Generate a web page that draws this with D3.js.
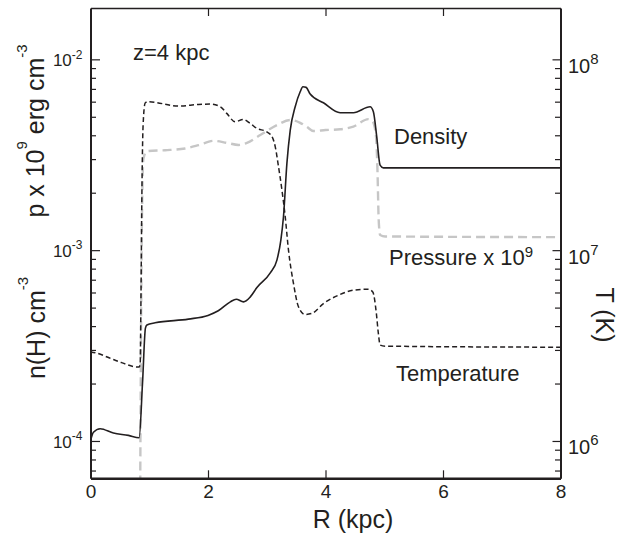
<!DOCTYPE html>
<html>
<head>
<meta charset="utf-8">
<script src="https://cdn.jsdelivr.net/npm/d3@7"></script>
<style>
  html, body { margin: 0; padding: 0; background: #fff; }
  svg { display: block; }
  text { font-family: "Liberation Sans", Arial, Helvetica, sans-serif; fill: #231f20; }
</style>
</head>
<body>
<script>
// ---------- data (R in kpc) ----------
const xTicks = [0, 2, 4, 6, 8];
const leftMajorTicks = [1e-4, 1e-3, 1e-2];   // n(H) / p x 1e9 axis
const leftExponents = ["-4", "-3", "-2"];
const rightMajorTicks = [1e6, 1e7, 1e8];     // T axis
const rightExponents = ["6", "7", "8"];

// density n(H) [cm^-3]
const densityData = [
  [0.00, 1.00e-4], [0.05, 1.11e-4], [0.165, 1.16e-4], [0.39, 1.10e-4], [0.646, 1.07e-4],
  [0.828, 1.04e-4], [0.885, 2.0e-4], [0.935, 3.9e-4], [0.96, 4.05e-4], [1.10, 4.16e-4],
  [1.666, 4.35e-4], [2.00, 4.55e-4], [2.175, 4.81e-4], [2.38, 5.36e-4], [2.48, 5.53e-4],
  [2.605, 5.36e-4], [2.72, 5.69e-4], [2.833, 6.37e-4], [3.06, 7.6e-4], [3.173, 8.87e-4],
  [3.24, 1.13e-3], [3.285, 1.50e-3], [3.343, 2.85e-3], [3.40, 4.26e-3], [3.484, 5.64e-3],
  [3.569, 6.76e-3], [3.615, 7.18e-3], [3.671, 7.13e-3], [3.739, 6.58e-3], [3.965, 5.92e-3],
  [4.249, 5.25e-3], [4.475, 5.25e-3], [4.759, 5.64e-3], [4.815, 5.31e-3], [4.872, 3.93e-3],
  [4.929, 2.79e-3], [4.985, 2.70e-3], [8.00, 2.70e-3]
];

// temperature T [K]
const temperatureData = [
  [0.00, 2.93e6], [0.08, 2.90e6], [0.42, 2.65e6], [0.82, 2.44e6], [0.845, 2.5e6],
  [0.86, 6e6], [0.875, 2e7], [0.895, 4.5e7], [0.93, 5.9e7], [0.98, 6.0e7],
  [1.50, 5.69e7], [1.84, 5.80e7], [2.04, 5.83e7], [2.21, 5.64e7], [2.32, 5.21e7],
  [2.46, 4.71e7], [2.60, 4.84e7], [2.72, 4.61e7], [2.83, 4.35e7], [3.00, 4.17e7],
  [3.09, 3.93e7], [3.145, 3.48e7], [3.20, 2.74e7], [3.258, 2.07e7], [3.314, 1.50e7],
  [3.370, 1.0e7], [3.455, 6.69e6], [3.54, 5.05e6], [3.654, 4.60e6], [3.767, 4.66e6],
  [3.965, 5.25e6], [4.249, 5.86e6], [4.475, 6.17e6], [4.73, 6.24e6], [4.805, 6.04e6],
  [4.86, 4.84e6], [4.90, 3.66e6], [4.93, 3.18e6], [5.015, 3.14e6], [8.00, 3.10e6]
];

// pressure p x 1e9 [erg cm^-3]
const pressureData = [
  [0.845, 5e-5], [0.87, 1.0e-3], [0.90, 3.0e-3], [0.957, 3.30e-3], [1.27, 3.34e-3],
  [1.61, 3.41e-3], [1.84, 3.55e-3], [2.095, 3.74e-3], [2.32, 3.65e-3], [2.52, 3.56e-3],
  [2.663, 3.65e-3], [2.89, 4.01e-3], [3.173, 4.52e-3], [3.40, 4.81e-3], [3.569, 4.65e-3],
  [3.68, 4.43e-3], [3.795, 4.21e-3], [4.00, 4.26e-3], [4.249, 4.30e-3], [4.475, 4.44e-3],
  [4.73, 4.86e-3], [4.805, 4.71e-3], [4.86, 3.93e-3], [4.885, 2.6e-3], [4.905, 1.45e-3],
  [4.93, 1.20e-3], [5.015, 1.18e-3], [8.00, 1.17e-3]
];

// ---------- layout ----------
const W = 637, H = 537;
const L = 90.5, R = 560.5, T = 8, B = 478.3;

const svg = d3.select("body").append("svg").attr("width", W).attr("height", H);

const x = d3.scaleLinear().domain([0, 8]).range([L, R]);
const y = d3.scaleLog().domain([6.374e-5, 1.858e-2]).range([B, T]);
const yT = d3.scaleLog().domain([6.374e5, 1.858e8]).range([B, T]);

function minorTicks(scale) {
  const [lo, hi] = scale.domain();
  const out = [];
  for (let e = Math.floor(Math.log10(lo)); e <= Math.ceil(Math.log10(hi)); e++) {
    for (let m = 2; m <= 9; m++) {
      const v = m * Math.pow(10, e);
      if (v >= lo && v <= hi) out.push(v);
    }
  }
  return out;
}

svg.append("defs").append("clipPath").attr("id", "clip")
  .append("rect").attr("x", L).attr("y", T).attr("width", R - L).attr("height", B - T);

// ---------- curves ----------
const lineL = d3.line().x(d => x(d[0])).y(d => y(d[1])).curve(d3.curveMonotoneX);
const lineT = d3.line().x(d => x(d[0])).y(d => yT(d[1])).curve(d3.curveMonotoneX);

const plot = svg.append("g").attr("clip-path", "url(#clip)");
plot.append("path").datum(pressureData).attr("d", lineL)
  .attr("fill", "none").attr("stroke", "#c6c6c6").attr("stroke-width", 2.4)
  .attr("stroke-dasharray", "9,5");
plot.append("path").datum(temperatureData).attr("d", lineT)
  .attr("fill", "none").attr("stroke", "#231f20").attr("stroke-width", 1.5)
  .attr("stroke-dasharray", "5,3");
plot.append("path").datum(densityData).attr("d", lineL)
  .attr("fill", "none").attr("stroke", "#231f20").attr("stroke-width", 1.6);

// ---------- axes ----------
function styleAxis(g, w) {
  g.select(".domain").attr("stroke", "#231f20").attr("stroke-width", w);
  g.selectAll(".tick line").attr("stroke", "#231f20").attr("stroke-width", 1.2);
}

// bottom
const gB = svg.append("g").attr("transform", `translate(0,${B})`)
  .call(d3.axisBottom(x).tickValues(xTicks).tickSizeInner(-8).tickSizeOuter(0).tickPadding(6.5));
styleAxis(gB, 2.6);
gB.selectAll(".tick text").attr("font-size", 19).attr("fill", "#231f20")
  .style("font-family", "'Liberation Sans', Arial, sans-serif");

// top
const gTop = svg.append("g").attr("transform", `translate(0,${T})`)
  .call(d3.axisTop(x).tickValues([2, 4, 6]).tickSizeInner(-8).tickSizeOuter(0).tickFormat(""));
styleAxis(gTop, 1.6);

// left (major + minor)
const gL = svg.append("g").attr("transform", `translate(${L},0)`)
  .call(d3.axisLeft(y).tickValues(leftMajorTicks).tickSizeInner(-9.5).tickSizeOuter(0).tickFormat(""));
styleAxis(gL, 2);
const gLm = svg.append("g").attr("transform", `translate(${L},0)`)
  .call(d3.axisLeft(y).tickValues(minorTicks(y)).tickSizeInner(-5.5).tickSizeOuter(0).tickFormat(""));
styleAxis(gLm, 0);
gLm.select(".domain").remove();

gL.selectAll(".tick").each(function(d, i) {
  const t = d3.select(this).append("text")
    .attr("x", -8).attr("y", 6.2).attr("text-anchor", "end").attr("font-size", 17);
  t.append("tspan").text("10");
  t.append("tspan").attr("font-size", 12).attr("dy", -7.4).text(leftExponents[i]);
});

// right (major + minor)
const gR = svg.append("g").attr("transform", `translate(${R},0)`)
  .call(d3.axisRight(yT).tickValues(rightMajorTicks).tickSizeInner(-8).tickSizeOuter(0).tickFormat(""));
styleAxis(gR, 2);
const gRm = svg.append("g").attr("transform", `translate(${R},0)`)
  .call(d3.axisRight(yT).tickValues(minorTicks(yT)).tickSizeInner(-5.5).tickSizeOuter(0).tickFormat(""));
styleAxis(gRm, 0);
gRm.select(".domain").remove();

gR.selectAll(".tick").each(function(d, i) {
  const t = d3.select(this).append("text")
    .attr("x", 7.5).attr("y", 13).attr("text-anchor", "start").attr("font-size", 20);
  t.append("tspan").text("10");
  t.append("tspan").attr("font-size", 15).attr("dy", -9).text(rightExponents[i]);
});

// ---------- axis titles ----------
svg.append("text").attr("x", 353).attr("y", 528).attr("text-anchor", "middle")
  .attr("font-size", 25).text("R (kpc)");

const tp = svg.append("text").attr("transform", "translate(43.5,131) rotate(-90)")
  .attr("text-anchor", "middle").attr("font-size", 25);
tp.append("tspan").text("p x 10");
tp.append("tspan").attr("font-size", 15).attr("dy", -17).text("9");
tp.append("tspan").attr("dy", 17).text(" erg cm");
tp.append("tspan").attr("font-size", 15).attr("dy", -17).text("-3");

const tn = svg.append("text").attr("transform", "translate(44.5,328) rotate(-90)")
  .attr("text-anchor", "middle").attr("font-size", 25);
tn.append("tspan").text("n(H) cm");
tn.append("tspan").attr("font-size", 15).attr("dy", -17).text("-3");

svg.append("text").attr("transform", "translate(595.5,315) rotate(90)")
  .attr("text-anchor", "middle").attr("font-size", 25).text("T (K)");

// ---------- annotations ----------
svg.append("text").attr("x", 133).attr("y", 60).attr("font-size", 22).text("z=4 kpc");
svg.append("text").attr("x", 394).attr("y", 144).attr("font-size", 22).text("Density");
const tpr = svg.append("text").attr("x", 389).attr("y", 264.5).attr("font-size", 22);
tpr.append("tspan").text("Pressure x 10");
tpr.append("tspan").attr("font-size", 15).attr("dy", -8).text("9");
svg.append("text").attr("x", 396).attr("y", 380.5).attr("font-size", 22).text("Temperature");
</script>
</body>
</html>
